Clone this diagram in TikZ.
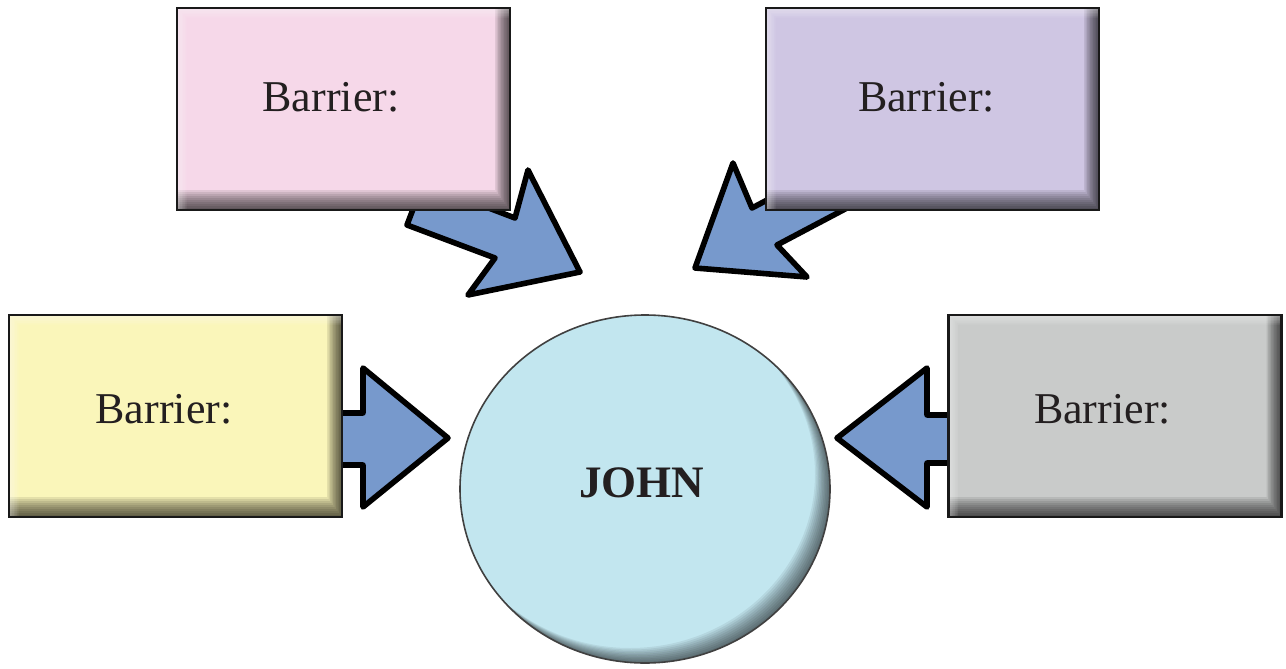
\documentclass[tikz,border=0pt]{standalone}
\usepackage{fontspec}
\setmainfont{Liberation Serif}
\usetikzlibrary{shapes.geometric,calc}
\definecolor{arrowblue}{HTML}{7799CC}
\definecolor{pinkc}{HTML}{F6D8E9}
\definecolor{purplec}{HTML}{CFC6E3}
\definecolor{yellowc}{HTML}{FAF6BA}
\definecolor{grayc}{HTML}{C9CBCA}
\definecolor{circc}{HTML}{C2E6EF}
\definecolor{textc}{HTML}{231F20}
\begin{document}
\begin{tikzpicture}[x=0.5pt,y=-0.5pt,
  barrow/.style={fill=arrowblue, draw=black, line width=2.8pt, line join=round},
  barrierbox/.style={rectangle, draw=black!90, line width=1.4pt, inner sep=0pt,
    minimum width=166.5pt, minimum height=101pt,
    path picture={
      \foreach \k in {1,...,10}{
        \fill[black, fill opacity=0.085, even odd rule]
          ($(path picture bounding box.south west)+(-5pt,-5pt)$) rectangle ($(path picture bounding box.north east)+(5pt,5pt)$)
          ($(path picture bounding box.south west)+(-5pt,\k*1pt)$) rectangle ($(path picture bounding box.north east)+(-\k*0.75pt,5pt)$);
      }
      \foreach \k in {1,...,6}{
        \fill[white, fill opacity=0.08, even odd rule]
          ($(path picture bounding box.south west)+(-5pt,-5pt)$) rectangle ($(path picture bounding box.north east)+(5pt,5pt)$)
          ($(path picture bounding box.south west)+(\k*0.8pt,-5pt)$) rectangle ($(path picture bounding box.north east)+(5pt,-\k*0.8pt)$);
      }
    }},
  johncircle/.style={ellipse, draw=black!75, line width=0.8pt, inner sep=0pt, fill=circc,
    minimum width=185pt, minimum height=174pt,
    path picture={
      \foreach \k in {1,...,10}{
        \fill[black, fill opacity=0.065, even odd rule]
          (path picture bounding box.center) ellipse [x radius=100pt, y radius=95pt]
          ($(path picture bounding box.center)+(-\k*0.75pt,\k*0.75pt)$) ellipse [x radius=92.5pt, y radius=87pt];
      }
    }},
  lbl/.style={anchor=base, inner sep=0pt, text=textc, font=\fontsize{22pt}{26pt}\selectfont}
]
\useasboundingbox[fill=white] (0,0) rectangle (1286,669);

% block arrows (drawn first, tails hidden behind boxes)
\draw[barrow] (320,413) -- (363,413) -- (363,368) -- (448,438) -- (363,507) -- (363,465) -- (320,465) -- cycle;
\draw[barrow] (975,415) -- (927,415) -- (927,368) -- (837,438) -- (927,507) -- (927,463) -- (975,463) -- cycle;
\draw[barrow] (423,183) -- (515,218) -- (528,170) -- (580,272) -- (468,295) -- (495,258) -- (407,225) -- cycle;
\draw[barrow] (858,152) -- (752,208) -- (733,163) -- (695,268) -- (807,277) -- (777,245) -- (883,189) -- cycle;

% barrier boxes
\node[barrierbox, fill=pinkc]   (b1) at (343.5,109) {};
\node[barrierbox, fill=purplec] (b2) at (932.5,109) {};
\node[barrierbox, fill=yellowc] (b3) at (175.5,416) {};
\node[barrierbox, fill=grayc]   (b4) at (1115,416) {};

\node[lbl] (t1) at (331,111) {Barrier:};
\node[lbl] (t2) at (926.5,111) {Barrier:};
\node[lbl] (t3) at (164,423) {Barrier:};
\node[lbl] (t4) at (1102.5,423) {Barrier:};

% central circle
\node[johncircle] (john) at (645,489) {};
\node[lbl, font=\fontsize{22.5pt}{26pt}\selectfont\bfseries] (jt) at (641.5,497) {JOHN};
\end{tikzpicture}
\end{document}
